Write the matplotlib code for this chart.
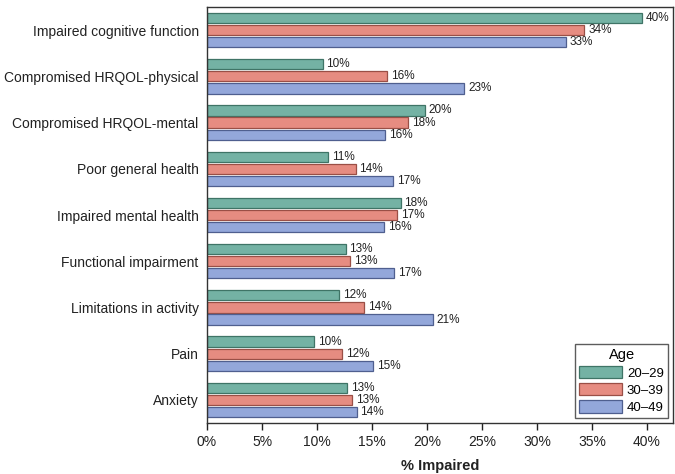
import matplotlib.pyplot as plt
import numpy as np
from matplotlib.ticker import FuncFormatter

plt.rcParams['font.family'] = ['Liberation Sans', 'DejaVu Sans']

categories = [
    "Impaired cognitive function",
    "Compromised HRQOL-physical",
    "Compromised HRQOL-mental",
    "Poor general health",
    "Impaired mental health",
    "Functional impairment",
    "Limitations in activity",
    "Pain",
    "Anxiety",
]
ages = ["20\u201329", "30\u201339", "40\u201349"]

# values (%)
age_20_29 = [39.5, 10.5, 19.8, 11.0, 17.6, 12.6, 12.0, 9.7, 12.7]
age_30_39 = [34.3, 16.4, 18.3, 13.5, 17.3, 13.0, 14.3, 12.3, 13.2]
age_40_49 = [32.6, 23.4, 16.2, 16.9, 16.1, 17.0, 20.5, 15.1, 13.6]

labels_20_29 = [40, 10, 20, 11, 18, 13, 12, 10, 13]
labels_30_39 = [34, 16, 18, 14, 17, 13, 14, 12, 13]
labels_40_49 = [33, 23, 16, 17, 16, 17, 21, 15, 14]

fills = ["#74b2a4", "#e68c81", "#93a7da"]
edges = ["#3f7466", "#9a4f46", "#4f5f8f"]

fig = plt.figure(figsize=(6.75, 4.74), dpi=100)
ax = fig.add_axes([0.3067, 0.1076, 0.6903, 0.8776])

y = np.arange(len(categories))
h = 0.22
step = 0.262
series = [(age_20_29, labels_20_29), (age_30_39, labels_30_39), (age_40_49, labels_40_49)]
for i, (vals, labs) in enumerate(series):
    pos = y + (i - 1) * step
    ax.barh(pos, vals, height=h, color=fills[i], edgecolor=edges[i],
            linewidth=0.9, label=ages[i])
    for p, v, l in zip(pos, vals, labs):
        ax.text(v + 0.35, p, f"{l}%", va="center", ha="left",
                fontsize=8.5, color="#222222")

ax.set_ylim(len(categories) - 0.5, -0.5)
ax.set_xlim(0, 42.36)
ax.set_xticks(np.arange(0, 41, 5))
ax.xaxis.set_major_formatter(FuncFormatter(lambda v, _: f"{v:.0f}%"))
ax.set_yticks(y)
ax.set_yticklabels(categories, fontsize=10, color="#222222")
ax.tick_params(axis="y", length=0, pad=6)
ax.tick_params(axis="x", labelsize=10, colors="#222222", length=5, width=1, pad=4)
ax.set_xlabel("% Impaired", fontsize=10.5, fontweight="bold", color="#222222", labelpad=7)
for s in ax.spines.values():
    s.set_color("#333333")
    s.set_linewidth(1)

leg = ax.legend(title="Age", loc="lower right", fontsize=9.5, title_fontsize=10.5,
                frameon=True, fancybox=False, edgecolor="#333333",
                handlelength=3.2, handleheight=1.1, handletextpad=0.4,
                borderpad=0.35, labelspacing=0.25, borderaxespad=0.35)
leg.get_frame().set_linewidth(1)

fig.savefig("out.png", dpi=100)
